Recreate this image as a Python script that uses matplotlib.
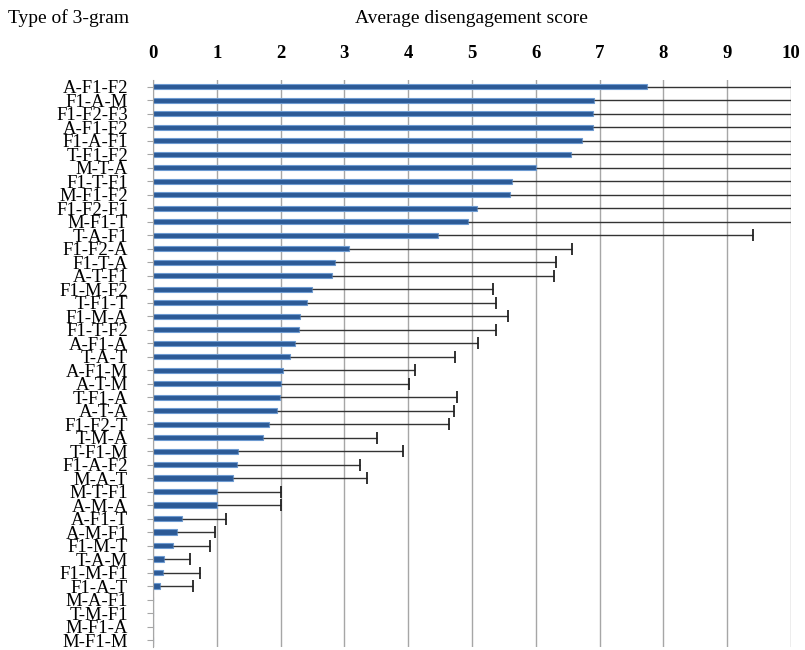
import matplotlib
matplotlib.use("Agg")
import matplotlib.pyplot as plt
import numpy as np

labels = ["A-F1-F2", "F1-A-M", "F1-F2-F3", "A-F1-F2", "F1-A-F1", "T-F1-F2", "M-T-A",
          "F1-T-F1", "M-F1-F2", "F1-F2-F1", "M-F1-T", "T-A-F1", "F1-F2-A", "F1-T-A",
          "A-T-F1", "F1-M-F2", "T-F1-T", "F1-M-A", "F1-T-F2", "A-F1-A", "T-A-T",
          "A-F1-M", "A-T-M", "T-F1-A", "A-T-A", "F1-F2-T", "T-M-A", "T-F1-M",
          "F1-A-F2", "M-A-T", "M-T-F1", "A-M-A", "A-F1-T", "A-M-F1", "F1-M-T",
          "T-A-M", "F1-M-F1", "F1-A-T", "M-A-F1", "T-M-F1", "M-F1-A", "M-F1-M"]
means = [7.74, 6.92, 6.89, 6.89, 6.72, 6.55, 6.01, 5.63, 5.59, 5.08, 4.93, 4.46,
         3.08, 2.86, 2.80, 2.50, 2.41, 2.31, 2.29, 2.23, 2.15, 2.04, 2.01, 1.99,
         1.95, 1.82, 1.72, 1.33, 1.31, 1.26, 1.00, 1.00, 0.45, 0.37, 0.31, 0.17,
         0.16, 0.11, 0.0, 0.0, 0.0, 0.0]
upper = [12.0, 12.0, 12.0, 12.0, 12.0, 12.0, 12.0, 12.0, 12.0, 12.0, 12.0, 9.41,
         6.56, 6.31, 6.28, 5.33, 5.37, 5.56, 5.37, 5.09, 4.74, 4.10, 4.01, 4.76,
         4.72, 4.64, 3.51, 3.92, 3.24, 3.35, 2.00, 2.00, 1.14, 0.97, 0.89, 0.58,
         0.74, 0.62, 0.0, 0.0, 0.0, 0.0]
xticks = list(range(0, 11))

serif = ["Liberation Serif", "DejaVu Serif"]
plt.rcParams['font.family'] = serif

fig = plt.figure(figsize=(8.05, 6.5), dpi=100)
ax = fig.add_axes([0.190, 0.005, 0.7926, 0.872])

y = np.arange(len(labels))
ax.set_xlim(0, 10)
ax.set_ylim(len(labels) - 0.5, -0.5)

for xv in xticks:
    ax.axvline(xv, color="#a6a6a6", lw=1.0, zorder=0)

ax.barh(y, means, height=0.38, color="#2C5A96", edgecolor="#6E9BD1", linewidth=0.8, zorder=2)

for yi, m, u in zip(y, means, upper):
    if u > m:
        ax.hlines(yi, m, min(u, 10), color="#333333", lw=1.0, zorder=3)
        if u <= 10:
            ax.plot([u], [yi], marker="|", markersize=9, mew=1.3, color="#222222", zorder=3)

ax.xaxis.tick_top()
ax.set_xticks(xticks)
ax.set_xticklabels([str(t) for t in xticks], fontsize=13.5, fontweight="bold")
ax.tick_params(axis="x", length=0, pad=13)
ax.set_yticks(y)
ax.set_yticklabels(labels, fontsize=13.5)
ax.tick_params(axis="y", length=4, color="#a6a6a6", pad=14)

for s in ["top", "right", "bottom"]:
    ax.spines[s].set_visible(False)
ax.spines["left"].set_color("#a6a6a6")

fig.text(0.01, 0.972, "Type of 3-gram", fontsize=14, ha="left", va="center")
fig.text(0.586, 0.972, "Average disengagement score", fontsize=14, ha="center", va="center")

fig.savefig("out.png", dpi=100)
